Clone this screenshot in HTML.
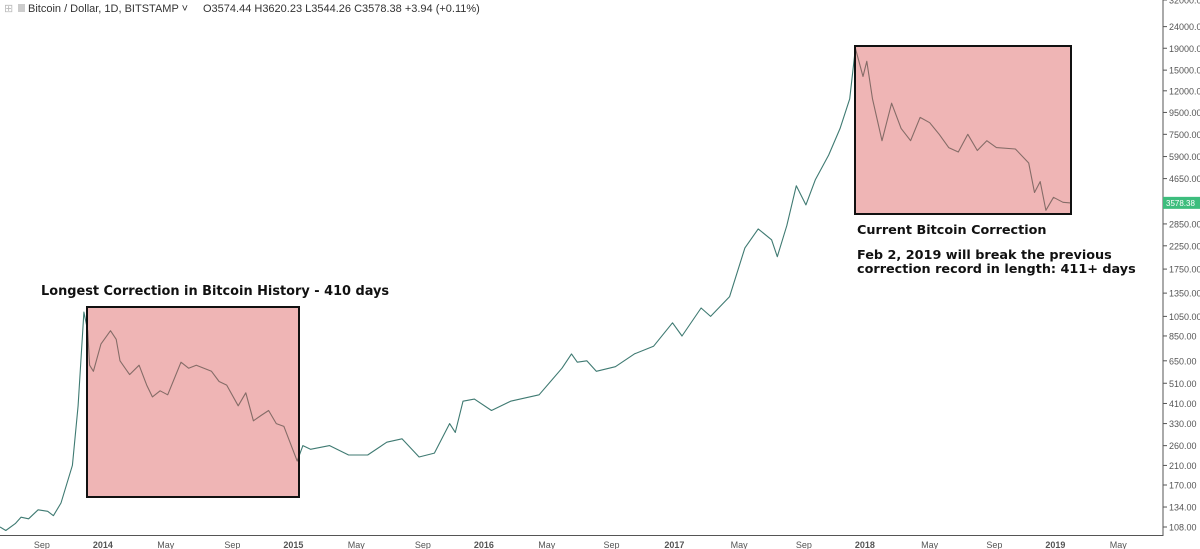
<!DOCTYPE html>
<html><head><meta charset="utf-8"><style>
body{margin:0;background:#fff;width:1200px;height:549px;overflow:hidden;font-family:"Liberation Sans",sans-serif}
svg{position:absolute;left:0;top:0}
</style></head><body>
<svg id="c" width="1200" height="549">
<text x="4" y="12" font-size="11" fill="#bbb">⊞</text>
<rect x="18" y="4" width="7" height="8" fill="#ccc"/>
<text x="28" y="12" font-size="11" fill="#333">Bitcoin / Dollar, 1D, BITSTAMP ˅</text>
<text x="203" y="12" font-size="11" fill="#333">O3574.44  H3620.23  L3544.26  C3578.38  +3.94 (+0.11%)</text>
<line x1="1163" y1="0" x2="1163" y2="536" stroke="#555"/>
<line x1="0" y1="535.5" x2="1163" y2="535.5" stroke="#555"/>
<g id="yt"></g><g id="xt"></g><g id="series"></g><g id="boxes"></g>
</svg>
<script>
const yTicks=[32000,24000,19000,15000,12000,9500,7500,5900,4650,2850,2250,1750,1350,1050,850,650,510,410,330,260,210,170,134,108];
const xLabels=["Sep","2014","May","Sep","2015","May","Sep","2016","May","Sep","2017","May","Sep","2018","May","Sep","2019","May"];
const xDates=[2013.69,2014.01,2014.34,2014.69,2015.01,2015.34,2015.69,2016.01,2016.34,2016.68,2017.01,2017.35,2017.69,2018.01,2018.35,2018.69,2019.01,2019.34];
const dates=[2013.47,2013.5,2013.55,2013.58,2013.62,2013.67,2013.72,2013.75,2013.79,2013.85,2013.88,2013.91,2013.93,2013.94,2013.96,2014.0,2014.05,2014.08,2014.1,2014.15,2014.2,2014.24,2014.27,2014.31,2014.35,2014.42,2014.46,2014.5,2014.58,2014.62,2014.66,2014.72,2014.76,2014.8,2014.84,2014.88,2014.92,2014.96,2015.03,2015.06,2015.1,2015.2,2015.3,2015.4,2015.5,2015.58,2015.67,2015.75,2015.83,2015.86,2015.9,2015.96,2016.05,2016.15,2016.3,2016.42,2016.47,2016.5,2016.55,2016.6,2016.7,2016.8,2016.9,2017.0,2017.05,2017.15,2017.2,2017.3,2017.38,2017.45,2017.52,2017.55,2017.6,2017.65,2017.7,2017.75,2017.82,2017.88,2017.93,2017.96,2018.0,2018.02,2018.05,2018.1,2018.15,2018.2,2018.25,2018.3,2018.35,2018.4,2018.45,2018.5,2018.55,2018.6,2018.65,2018.7,2018.8,2018.87,2018.9,2018.93,2018.96,2019.0,2019.05,2019.09];
const prices=[108,104,112,120,118,130,128,122,140,210,400,1100,900,620,580,780,900,820,650,560,620,500,440,470,450,640,600,620,580,520,500,400,460,340,360,380,330,320,220,260,250,260,235,235,270,280,230,240,330,300,420,430,380,420,450,600,700,640,650,580,610,700,760,980,850,1150,1050,1300,2200,2700,2400,2000,2800,4300,3500,4600,6000,8000,11000,19000,14000,16500,11000,7000,10500,8000,7000,9000,8500,7500,6500,6200,7500,6300,7000,6500,6400,5500,4000,4500,3300,3800,3600,3578];
const lastPrice=3578.38;
const NS="http://www.w3.org/2000/svg";
const Y=p=>527-Math.log(p/108)*92.6;
const X=t=>101+(t-2014)*190.5;
function mk(tag,at,parent){const e=document.createElementNS(NS,tag);for(const k in at)e.setAttribute(k,at[k]);document.getElementById(parent).appendChild(e);return e;}
yTicks.forEach(v=>{
 const l=mk('line',{x1:1163,x2:1167,y1:Y(v),y2:Y(v),stroke:'#555'},'yt');
 
 
 const t=mk('text',{x:1169,y:Y(v)+3.5,'font-size':9,fill:'#555'},'yt');
 
 
 t.textContent=v.toFixed(2);
});
const pr=mk('rect',{x:1163,y:Y(lastPrice)-6,width:37,height:12,fill:'#3dbd7d'},'yt');


const pt=mk('text',{x:1166,y:Y(lastPrice)+3,'font-size':8,fill:'#fff'},'yt');


pt.textContent=lastPrice.toFixed(2);
xLabels.forEach((s,i)=>{
 const t=mk('text',{x:X(xDates[i]),y:548,'font-size':9,fill:'#555','text-anchor':'middle','font-weight':/^\d/.test(s)?'bold':'normal'},'xt');
 
 
 t.textContent=s;
});
const pl=mk('polyline',{points:dates.map((d,i)=>X(d).toFixed(1)+','+Y(prices[i]).toFixed(1)).join(' '),fill:'none',stroke:'#3f7a72','stroke-width':1.1,'stroke-linejoin':'round'},'series');


const b1=mk('rect',{x:87,y:307,width:212,height:190,fill:'rgba(220,90,90,0.45)',stroke:'#111','stroke-width':2},'boxes');


const b2=mk('rect',{x:855,y:46,width:216,height:168,fill:'rgba(220,90,90,0.45)',stroke:'#111','stroke-width':2},'boxes');


const ann=[[41,295,'Longest Correction in Bitcoin History - 410 days','annotation-2014',12.9],[857,234,'Current Bitcoin Correction','annotation-current',12.8],[857,259,'Feb 2, 2019 will break the previous','annotation-note-1',12.8],[857,273,'correction record in length: 411+ days','annotation-note-2',12.8]];
ann.forEach(a=>{
 const t=mk('text',{x:a[0],y:a[1],'font-size':a[4],'font-weight':'bold',fill:'#111','font-family':'DejaVu Sans, sans-serif'},'boxes');
 
 
 t.textContent=a[2];
});
</script>
</body></html>
